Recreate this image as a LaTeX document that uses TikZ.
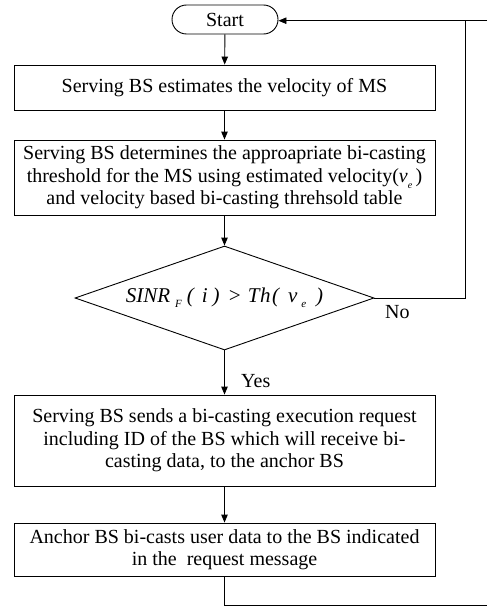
\documentclass[tikz,border=0pt]{standalone}
\usepackage{fontspec}
\setmainfont{Liberation Serif}
\usetikzlibrary{shapes.geometric,shapes.misc,arrows.meta}
\newcommand\lowsub[1]{\raisebox{-0.32em}{\fontsize{10}{10}\selectfont #1}}
\newcommand\condsub[1]{\raisebox{-5.5pt}{\fontsize{11}{11}\selectfont #1}}
\begin{document}
\begin{tikzpicture}[x=1pt,y=-1pt,
  every node/.style={font=\fontsize{20}{22.5}\selectfont, inner sep=0pt},
  flow/.style={line width=0.9pt, -{Triangle[length=8pt,width=6.5pt]}},
  link/.style={line width=0.9pt},
  procbox/.style={draw, line width=0.9pt, rectangle, minimum width=421pt, align=center},
  terminal/.style={draw, line width=0.9pt, rounded rectangle, minimum width=106pt, minimum height=29pt},
  decision/.style={draw, line width=0.9pt, diamond, aspect=2.875, minimum width=299pt, minimum height=104pt}]
\useasboundingbox (0,0) rectangle (487,610);

\node[terminal] (start) at (225,19.5) {Start};
\node[procbox, minimum height=45pt] (est) at (224.5,87.5) {Serving BS estimates the velocity of MS};
\node[procbox, minimum height=75pt] (thr) at (224.5,177.5)
  {Serving BS determines the approapriate bi-casting\\
   threshold for the MS using estimated velocity(\textit{v}\lowsub{\textit{e}}\,)\\
   and velocity based bi-casting threhsold table};
\node[decision, font=\fontsize{21}{22}\selectfont\itshape] (cmp) at (224.5,298)
  {SINR\hspace{5pt}\condsub{F}\hspace{5pt}(\hspace{8pt}i\hspace{5pt})\hspace{8pt}>\hspace{6pt}T\hspace{0.5pt}h\hspace{1.5pt}(\hspace{9pt}v\hspace{4pt}\condsub{e}\hspace{10pt})};
\node[procbox, minimum height=91pt] (req) at (224.5,440.5)
  {Serving BS sends a bi-casting execution request\\
   including ID of the BS which will receive bi-\\
   casting data, to the anchor BS};
\node[procbox, minimum height=53pt] (cast) at (224.5,549.5)
  {Anchor BS bi-casts user data to the BS indicated\\
   in the\ \ request message};

\coordinate (noturn) at (465,298);
\coordinate (topjoin) at (465,20.7);
\coordinate (topedge) at (487,20.7);
\coordinate (botturn) at (224.5,605);
\coordinate (botedge) at (487,605);

\draw[flow] (start) -- (est);
\draw[flow] (est) -- (thr);
\draw[flow] (thr) -- (cmp);
\draw[flow] (cmp) -- (req);
\node[anchor=base west] (yeslabel) at (241,387) {Yes};
\draw[flow] (req) -- (cast);
\draw[link] (cmp.east) -- (noturn) -- (topjoin);
\node[anchor=base west] (nolabel) at (385,318) {No};
\draw[flow] (topedge) -- (start.east |- topedge);
\draw[link] (cast.south) -- (botturn) -- (botedge);
\end{tikzpicture}
\end{document}
